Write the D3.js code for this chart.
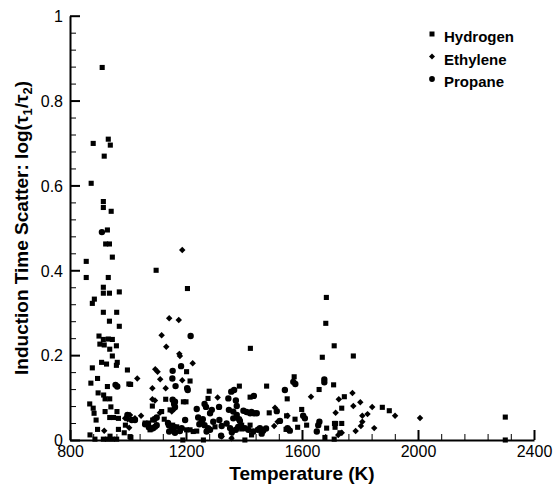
<!DOCTYPE html>
<html>
<head>
<meta charset="utf-8">
<script src="https://cdn.jsdelivr.net/npm/d3@7"></script>
<style>
  body { margin: 0; background: #fff; }
  svg { display: block; font-family: "Liberation Sans", Arial, sans-serif; }
</style>
</head>
<body>
<svg id="chart" width="553" height="485"></svg>
<script>
// ---- data: [Temperature (K), log(tau1/tau2)] ----
const hydrogen = [
  [911,0.878],[880,0.699],[932,0.709],[939,0.695],[918,0.669],[873,0.605],
  [915,0.562],[915,0.548],[942,0.539],[929,0.495],[923,0.462],[936,0.462],
  [946,0.431],[856,0.421],[856,0.383],[932,0.383],[915,0.36],[915,0.346],[936,0.346],[970,0.349],
  [884,0.332],[877,0.322],[915,0.301],[961,0.301],[936,0.28],[970,0.268],
  [900,0.245],[915,0.237],[932,0.238],[946,0.237],[903,0.226],[918,0.224],[937,0.214],[960,0.222],
  [946,0.198],[909,0.183],[926,0.179],[963,0.183],[960,0.176],[877,0.17],[998,0.165],
  [895,0.145],[872,0.134],[929,0.126],[1003,0.132],[897,0.111],[916,0.106],[921,0.097],[937,0.097],
  [868,0.085],[880,0.075],[941,0.078],[883,0.063],[921,0.067],[937,0.053],[950,0.053],[962,0.067],
  [890,0.047],[967,0.051],[895,0.025],[967,0.025],[987,0.017],[991,0.035],
  [869,0.012],[886,0.002],[915,0.002],[929,0.002],[946,0.002],[961,0.002],[938,0.009],[1010,0.006],
  [1097,0.4],[1205,0.357],[1202,0.161],[1214,0.139],[1009,0.131],[1280,0.115],[1384,0.127],[1276,0.098],
  [1421,0.101],[1130,0.096],[1191,0.09],[1200,0.09],[1084,0.08],[1145,0.071],[1116,0.067],
  [1085,0.047],[1125,0.049],[1059,0.04],[1071,0.04],[1076,0.024],[1087,0.028],
  [1154,0.035],[1168,0.031],[1202,0.024],[1214,0.024],[1225,0.02],[1237,0.021],
  [1007,0.008],[1189,0.0],[1260,0.0],[1403,0.0],[1426,0.012],[1392,0.035],[1421,0.035],[1392,0.026],[1300,0.031],
  [1422,0.216],[1478,0.127],[1549,0.097],[1487,0.064],[1547,0.057],[1545,0.025],[1553,0.025],
  [1684,0.336],[1682,0.275],[1711,0.222],[1670,0.195],[1777,0.198],[1573,0.149],[1709,0.13],[1659,0.119],
  [1746,0.102],[1737,0.075],[1877,0.077],[1901,0.069],[1599,0.072],[1576,0.049],[1712,0.039],[1716,0.039],[1737,0.039],
  [1616,0.035],[1585,0.03],[1685,0.028],[1714,0.03],[1731,0.017],[1679,0.006],[1711,0.002],
  [2301,0.054],[2301,0.0]
];
const ethylene = [
  [918,0.022],[990,0.051],[999,0.049],[1004,0.029],[1007,0.059],[1024,0.051],[1032,0.145],[1045,0.057],
  [1187,0.448],[1142,0.287],[1175,0.283],[1116,0.247],[1132,0.22],[1177,0.203],[1179,0.198],[1223,0.181],
  [1094,0.167],[1102,0.161],[1111,0.143],[1187,0.141],[1084,0.122],[1130,0.122],
  [1309,0.1],[1084,0.096],[1093,0.093],[1160,0.073],[1151,0.067],[1110,0.064],
  [1323,0.008],[1357,0.004],
  [1504,0.033],[1516,0.043],[1507,0.076],[1550,0.057],
  [1631,0.102],[1774,0.111],[1727,0.096],[1801,0.089],[1777,0.08],[1842,0.078],[1921,0.057],[1716,0.064],
  [1826,0.061],[1808,0.057],[1808,0.043],[1803,0.033],[1849,0.028],[1785,0.021],[1725,0.012],[1737,0.017],[2007,0.052]
];
const propane = [
  [910,0.49],[957,0.13],[963,0.126],[998,0.059],[1013,0.047],[1024,0.047],
  [1183,0.174],[1154,0.163],[1153,0.145],[1164,0.127],[1162,0.09],[1216,0.245],
  [1099,0.053],[1091,0.049],[1059,0.037],[1072,0.03],[1084,0.027],[1093,0.031],[1099,0.035],
  [1141,0.035],[1151,0.025],[1160,0.03],[1142,0.02],[1162,0.017],[1138,0.04],
  [1154,0.095],[1159,0.085],[1162,0.078],[1204,0.122],[1206,0.118],
  [1264,0.085],[1269,0.078],[1237,0.073],[1289,0.071],[1283,0.063],[1314,0.078],
  [1356,0.114],[1366,0.118],[1346,0.098],[1372,0.093],[1375,0.08],[1348,0.071],[1363,0.067],[1375,0.059],[1363,0.051],
  [1398,0.069],[1409,0.066],[1426,0.066],[1444,0.063],[1434,0.104],[1421,0.063],[1434,0.063],
  [1197,0.047],[1242,0.053],[1254,0.043],[1246,0.037],[1258,0.049],
  [1264,0.035],[1276,0.028],[1283,0.024],[1271,0.02],
  [1294,0.043],[1315,0.047],[1323,0.033],[1321,0.01],
  [1340,0.039],[1352,0.028],[1358,0.018],[1372,0.024],[1380,0.031],[1386,0.045],[1383,0.049],
  [1403,0.028],[1415,0.024],[1432,0.02],[1448,0.024],
  [1455,0.028],[1466,0.022],[1476,0.027],[1461,0.015],
  [1179,0.021],[1185,0.028],
  [1541,0.118],[1513,0.068],[1524,0.045],
  [1570,0.137],[1577,0.132],[1677,0.143],[1677,0.136],
  [1604,0.057],[1610,0.051],[1660,0.043],[1656,0.035],[1651,0.02],
  [1550,0.028],[1558,0.022]
];
const xTicks = [800, 1200, 1600, 2000, 2400];
const yTicks = [0, 0.2, 0.4, 0.6, 0.8, 1];
const seriesNames = ["Hydrogen", "Ethylene", "Propane"];

// ---- layout ----
const svg = d3.select("#chart");
const x = d3.scaleLinear().domain([800, 2400]).range([70, 534]);
const y = d3.scaleLinear().domain([0, 1]).range([440, 15.7]);

const xMinor = d3.range(800, 2400.1, 80).filter(v => !xTicks.includes(v));
const yMinor = d3.range(0, 26).map(i => +(i * 0.04).toFixed(2)).filter(v => !yTicks.includes(v) && v <= 1);

// minor ticks
svg.append("g").attr("transform", "translate(0,440)")
  .call(d3.axisBottom(x).tickValues(xMinor).tickSize(-6).tickSizeOuter(0).tickFormat(""))
  .call(g => g.select(".domain").remove())
  .call(g => g.selectAll("line").attr("stroke", "#000").attr("stroke-width", 1));
svg.append("g").attr("transform", "translate(70,0)")
  .call(d3.axisLeft(y).tickValues(yMinor).tickSize(-6).tickSizeOuter(0).tickFormat(""))
  .call(g => g.select(".domain").remove())
  .call(g => g.selectAll("line").attr("stroke", "#000").attr("stroke-width", 1));

// major axes
const xAxis = svg.append("g").attr("transform", "translate(0,440)")
  .call(d3.axisBottom(x).tickValues(xTicks).tickSize(-10).tickSizeOuter(0).tickPadding(4).tickFormat(d3.format("d")));
const yAxis = svg.append("g").attr("transform", "translate(70,0)")
  .call(d3.axisLeft(y).tickValues(yTicks).tickSize(-10).tickSizeOuter(0).tickPadding(7).tickFormat(d => String(d)));

[xAxis, yAxis].forEach(g => {
  g.select(".domain").attr("stroke", "#000").attr("stroke-width", 2);
  g.selectAll(".tick line").attr("stroke", "#000").attr("stroke-width", 2);
  g.selectAll(".tick text").attr("fill", "#000").attr("font-size", 16)
    .attr("font-family", "'Liberation Sans', Arial, sans-serif");
});
xAxis.selectAll(".tick text").attr("y", 17).attr("dy", 0);
yAxis.selectAll(".tick text").attr("x", -7).attr("dy", "0.36em");

// ---- symbols ----
const diamondType = {
  draw(ctx, size) {
    const r = Math.sqrt(size / 2);
    ctx.moveTo(0, -r); ctx.lineTo(r, 0); ctx.lineTo(0, r); ctx.lineTo(-r, 0); ctx.closePath();
  }
};
const sym = {
  Hydrogen: d3.symbol().type(d3.symbolSquare).size(26),
  Ethylene: d3.symbol().type(diamondType).size(21),
  Propane: d3.symbol().type(d3.symbolCircle).size(32)
};
const legendSym = {
  Hydrogen: d3.symbol().type(d3.symbolSquare).size(25),
  Ethylene: d3.symbol().type(diamondType).size(18),
  Propane: d3.symbol().type(d3.symbolCircle).size(26)
};

const allSeries = [["Hydrogen", hydrogen], ["Ethylene", ethylene], ["Propane", propane]];
allSeries.forEach(([name, data]) => {
  svg.append("g").selectAll("path").data(data).join("path")
    .attr("transform", d => `translate(${x(d[0])},${y(d[1])})`)
    .attr("d", sym[name]())
    .attr("fill", "#000");
});

// ---- legend ----
const legend = svg.append("g").attr("transform", "translate(432,0)");
seriesNames.forEach((name, i) => {
  const by = 42 + i * 22.5;
  legend.append("path").attr("transform", `translate(0,${by - 8})`).attr("d", legendSym[name]()).attr("fill", "#000");
  legend.append("text").attr("x", 12).attr("y", by).attr("font-size", 15).attr("font-weight", "bold")
    .attr("fill", "#000").text(name);
});

// ---- axis titles ----
svg.append("text").attr("x", 302).attr("y", 480).attr("text-anchor", "middle")
  .attr("font-size", 19).attr("font-weight", "bold").attr("fill", "#000").text("Temperature (K)");

const yt = svg.append("text").attr("transform", "translate(28,228) rotate(-90)")
  .attr("text-anchor", "middle").attr("font-size", 19).attr("font-weight", "bold").attr("fill", "#000");
yt.append("tspan").text("Induction Time Scatter: log(\u03C4");
yt.append("tspan").attr("font-size", 13).attr("dy", 4).text("1");
yt.append("tspan").attr("dy", -4).text("/\u03C4");
yt.append("tspan").attr("font-size", 13).attr("dy", 4).text("2");
yt.append("tspan").attr("dy", -4).text(")");
</script>
</body>
</html>
